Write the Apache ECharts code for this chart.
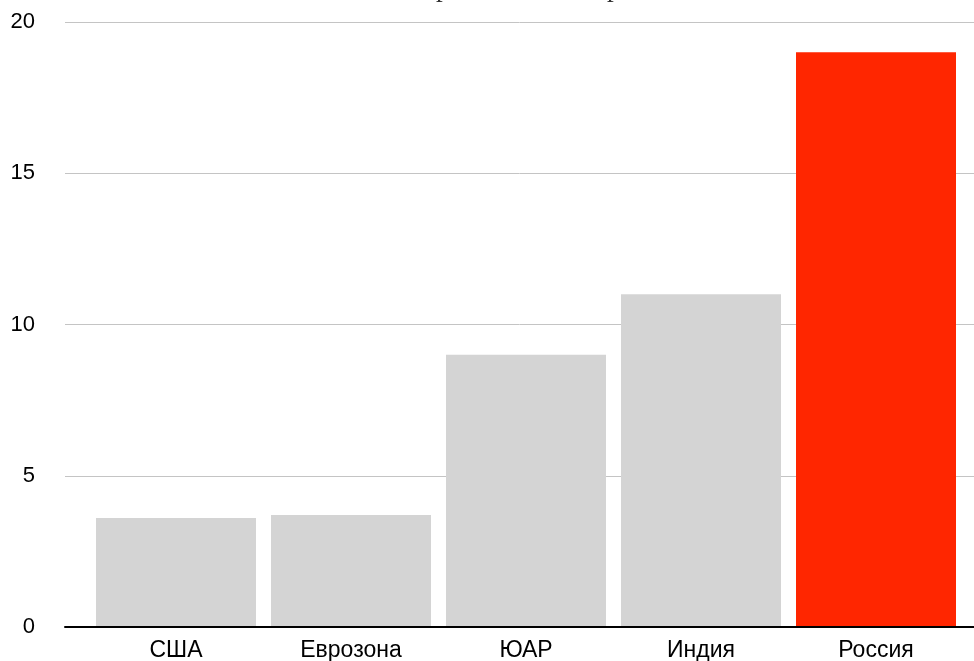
<!DOCTYPE html>
<html>
<head>
<meta charset="utf-8">
<script src="https://cdn.jsdelivr.net/npm/echarts@6/dist/echarts.min.js"></script>
<style>
html,body{margin:0;padding:0;background:#fff;}
#chart{width:974px;height:661px;}
</style>
</head>
<body>
<div id="chart"></div>
<script>
const titleText = 'Ставки в мире: Россия и страны';
const categories = ['США', 'Еврозона', 'ЮАР', 'Индия', 'Россия'];
const values = [3.6, 3.7, 9.0, 11.0, 19.0];
const highlighted = 'Россия';
const yMin = 0, yMax = 20, yStep = 5;

// place the (cropped) title so its first descender sits where the reference shows it
const titleSize = 27;
const ctx = document.createElement('canvas').getContext('2d');
ctx.font = titleSize + 'px "Liberation Serif"';
const prefixW = ctx.measureText('Ставки в ми').width + ctx.measureText('р').width * 0.3;
const titleLeft = 440 - prefixW - 5;

const chart = echarts.init(document.getElementById('chart'), null, {renderer: 'canvas'});
chart.setOption({
  animation: false,
  backgroundColor: '#ffffff',
  title: {
    text: titleText,
    left: titleLeft,
    top: -30,
    textStyle: {fontFamily: 'Liberation Serif', fontSize: titleSize, fontWeight: 'normal', color: '#333'}
  },
  grid: [
    {left: 65, right: 0, top: 22, bottom: 34, containLabel: false, outerBoundsMode: 'none'},
    {left: 88.5, right: 10.5, top: 22, bottom: 34, containLabel: false, outerBoundsMode: 'none'}
  ],
  xAxis: [
    {gridIndex: 0, type: 'value', min: 0, max: 1, z: 5,
     axisLine: {show: true, lineStyle: {color: '#000', width: 2}},
     axisTick: {show: false}, axisLabel: {show: false}, splitLine: {show: false}},
    {gridIndex: 1, type: 'category', data: categories,
     axisLine: {show: false}, axisTick: {show: false},
     axisLabel: {fontFamily: 'Liberation Sans', fontSize: 23, color: '#000', margin: 12}}
  ],
  yAxis: [
    {gridIndex: 0, type: 'value', min: yMin, max: yMax, interval: yStep,
     axisLine: {show: false}, axisTick: {show: false},
     axisLabel: {fontFamily: 'Liberation Sans', fontSize: 22, color: '#000', margin: 30},
     splitLine: {show: true, lineStyle: {color: '#c4c4c4', width: 1}}},
    {gridIndex: 1, type: 'value', min: yMin, max: yMax, interval: yStep, show: false,
     splitLine: {show: false}}
  ],
  series: [{
    type: 'bar',
    xAxisIndex: 1, yAxisIndex: 1,
    data: values,
    barWidth: 160,
    z: 2,
    itemStyle: {
      color: p => p.name === highlighted ? '#ff2600' : '#d4d4d4'
    }
  }]
});
</script>
</body>
</html>
